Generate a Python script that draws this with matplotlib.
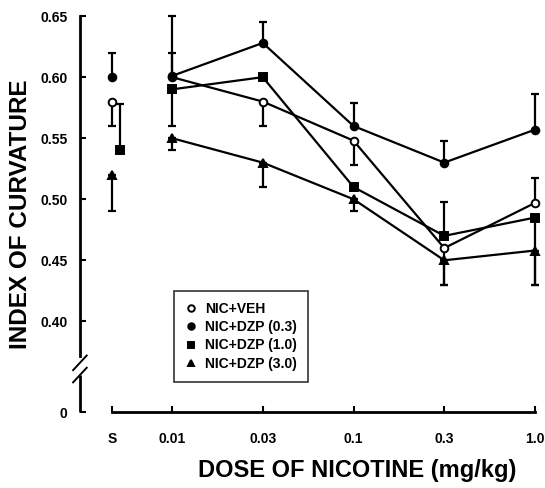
import numpy as np
import matplotlib
matplotlib.use("Agg")
import matplotlib.pyplot as plt

# doses: saline + nicotine doses (mg/kg)
dose_labels = ["S", "0.01", "0.03", "0.1", "0.3", "1.0"]

# index of curvature means per group
veh = [0.580, 0.600, 0.580, 0.548, 0.460, 0.497]
dzp03 = [0.600, 0.601, 0.628, 0.560, 0.530, 0.557]
dzp10 = [0.540, 0.590, 0.600, 0.510, 0.470, 0.485]
dzp30 = [0.520, 0.550, 0.530, 0.500, 0.450, 0.458]

# one-sided SEM bars (lower, upper)
veh_lo = [0.020, 0.000, 0.020, 0.020, 0.030, 0.000]
veh_hi = [0.000, 0.020, 0.000, 0.000, 0.000, 0.020]
dzp03_lo = [0.000, 0.000, 0.000, 0.000, 0.000, 0.000]
dzp03_hi = [0.020, 0.049, 0.017, 0.019, 0.018, 0.029]
dzp10_lo = [0.000, 0.030, 0.000, 0.000, 0.000, 0.055]
dzp10_hi = [0.038, 0.000, 0.000, 0.000, 0.028, 0.000]
dzp30_lo = [0.030, 0.010, 0.020, 0.010, 0.020, 0.028]
dzp30_hi = [0.000, 0.000, 0.000, 0.000, 0.000, 0.000]

series = [
    ("NIC+VEH", veh, veh_lo, veh_hi, "o", "white"),
    ("NIC+DZP (0.3)", dzp03, dzp03_lo, dzp03_hi, "o", "black"),
    ("NIC+DZP (1.0)", dzp10, dzp10_lo, dzp10_hi, "s", "black"),
    ("NIC+DZP (3.0)", dzp30, dzp30_lo, dzp30_hi, "^", "black"),
]

plt.rcParams["font.family"] = ["Liberation Sans", "DejaVu Sans"]
plt.rcParams["font.weight"] = "bold"

fig = plt.figure(figsize=(5.45, 4.88), dpi=100)
ax = fig.add_axes([80 / 545, 69 / 488, 460 / 545, 409 / 488])

# x positions: saline sits a bit closer to the first dose
xpos = np.array([-0.661, 0, 1, 2, 3, 4], dtype=float)
sal_shift = {"NIC+DZP (1.0)": 0.09}
zero_pos = 0.3254

handles = []
for name, y, lo, hi, mk, fc in series:
    x = xpos.copy()
    x[0] += sal_shift.get(name, 0.0)
    ax.errorbar(x, y, yerr=[lo, hi], fmt="none", ecolor="black",
                elinewidth=1.6, capsize=3, capthick=1.6, zorder=2)
    ax.plot(x[1:], y[1:], color="black", lw=1.6, zorder=3)
    h, = ax.plot(x, y, linestyle="none", marker=mk, ms=5.5, mfc=fc,
                 mec="black", mew=1.4, zorder=4, label=name)
    handles.append(h)

ax.set_xlim(-1.014, 4.055)
ax.set_ylim(0.32, 0.655)

for s in ["top", "right"]:
    ax.spines[s].set_visible(False)
ax.spines["left"].set_linewidth(2)
ax.spines["left"].set_bounds(0.372, 0.65)
ax.spines["bottom"].set_linewidth(2)
ax.spines["bottom"].set_position(("data", zero_pos))
ax.spines["bottom"].set_bounds(xpos[0], xpos[-1])

# lower piece of broken y axis and break marks
ax.plot([-1.014, -1.014], [zero_pos, 0.356], color="black", lw=2,
        clip_on=False, solid_capstyle="butt")
for yb in [0.356, 0.366]:
    ax.plot([-1.09, -0.94], [yb - 0.006, yb + 0.006], color="black",
            lw=1.4, clip_on=False)

ax.set_yticks([zero_pos, 0.40, 0.45, 0.50, 0.55, 0.60, 0.65])
ax.set_yticklabels(["0", "0.40", "0.45", "0.50", "0.55", "0.60", "0.65"])
ax.set_xticks(xpos)
ax.set_xticklabels(dose_labels)
ax.tick_params(axis="both", direction="in", length=4, width=1.5,
               labelsize=10, pad=9)
ax.tick_params(axis="x", pad=14)
for t in ax.get_xticklabels() + ax.get_yticklabels():
    t.set_fontweight("bold")

ax.set_ylabel("INDEX OF CURVATURE", fontsize=17.5, fontweight="bold", labelpad=6)
ax.set_xlabel("DOSE OF NICOTINE (mg/kg)", fontsize=17, fontweight="bold")
ax.xaxis.set_label_coords(0.602, -0.098)

leg = ax.legend(handles=handles, loc="upper left",
                bbox_to_anchor=(0.19, 0.33), frameon=True, fancybox=False,
                edgecolor="black", prop={"size": 10, "weight": "bold"},
                handlelength=0.8, handletextpad=0.6, borderpad=0.8,
                labelspacing=0.3, markerscale=0.85)
leg.get_frame().set_linewidth(1.2)

fig.savefig("out.png", dpi=100)
